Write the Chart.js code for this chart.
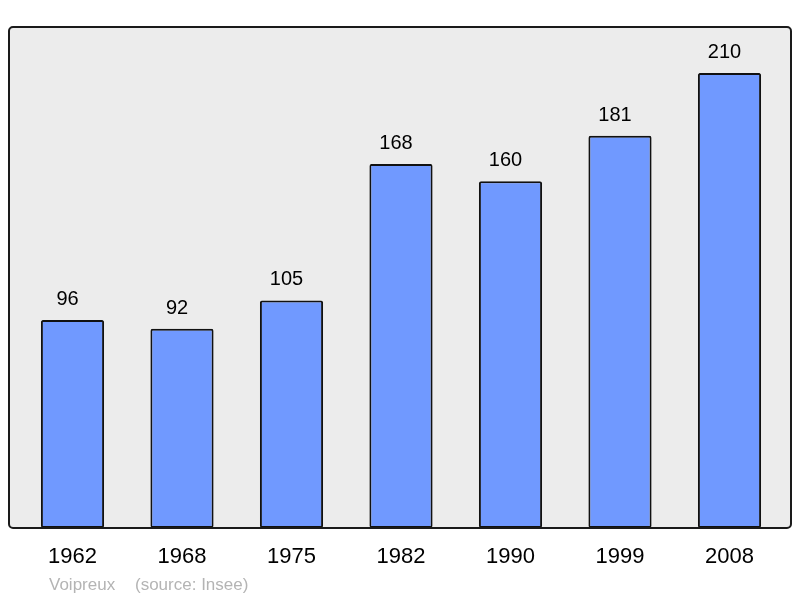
<!DOCTYPE html>
<html>
<head>
<meta charset="utf-8">
<script src="https://cdn.jsdelivr.net/npm/chart.js@4.4.0/dist/chart.umd.min.js"></script>
<style>
html,body{margin:0;padding:0;background:#fff;}
#wrap{width:800px;height:598px;}
</style>
</head>
<body>
<div id="wrap"><canvas id="c" width="800" height="598"></canvas></div>
<script>
const years = ["1962","1968","1975","1982","1990","1999","2008"];
const population = [96, 92, 105, 168, 160, 181, 210];
const footerPlace = "Voipreux";
const footerSource = "(source: Insee)";

const FONT = "'Liberation Sans', Arial, sans-serif";

function panelPath(ctx, a) {
  ctx.beginPath();
  ctx.roundRect(a.left - 8.75, a.top, (a.right - a.left) + 15.5, a.bottom - a.top, 4);
}

const panelPlugin = {
  id: 'panel',
  beforeDatasetsDraw(chart) {
    const {ctx, chartArea: a} = chart;
    ctx.save();
    panelPath(ctx, a);
    ctx.fillStyle = '#ececec';
    ctx.fill();
    ctx.restore();
  },
  afterDatasetsDraw(chart) {
    const {ctx, chartArea: a} = chart;
    ctx.save();
    panelPath(ctx, a);
    ctx.lineWidth = 2;
    ctx.strokeStyle = '#1a1a1a';
    ctx.stroke();
    // value labels
    const meta = chart.getDatasetMeta(0);
    ctx.fillStyle = '#000';
    ctx.font = '20px ' + FONT;
    ctx.textAlign = 'center';
    ctx.textBaseline = 'alphabetic';
    meta.data.forEach((bar, i) => {
      ctx.fillText(String(population[i]), bar.x - 5, bar.y - 15);
    });
    // footer
    ctx.fillStyle = '#b4b4b4';
    ctx.font = '17px ' + FONT;
    ctx.textAlign = 'left';
    ctx.fillText(footerPlace, 49, 590);
    ctx.fillText(footerSource, 135, 590);
    ctx.restore();
  }
};

new Chart(document.getElementById('c'), {
  type: 'bar',
  data: {
    labels: years,
    datasets: [{
      data: population,
      backgroundColor: '#7099ff',
      borderColor: '#111',
      borderWidth: 2,
      borderRadius: 2,
      borderSkipped: false,
      barPercentage: 0.577,
      categoryPercentage: 1
    }]
  },
  options: {
    responsive: false,
    animation: false,
    devicePixelRatio: 1,
    layout: { padding: { left: 17.75, right: 15.75, top: 27, bottom: 11.6 } },
    plugins: { legend: { display: false }, tooltip: { enabled: false } },
    scales: {
      x: {
        grid: { display: false, drawTicks: false },
        border: { display: false },
        ticks: { color: '#000', font: { size: 22, family: FONT }, padding: 16 }
      },
      y: {
        display: false,
        min: 0,
        max: 231.2
      }
    }
  },
  plugins: [panelPlugin]
});
</script>
</body>
</html>
